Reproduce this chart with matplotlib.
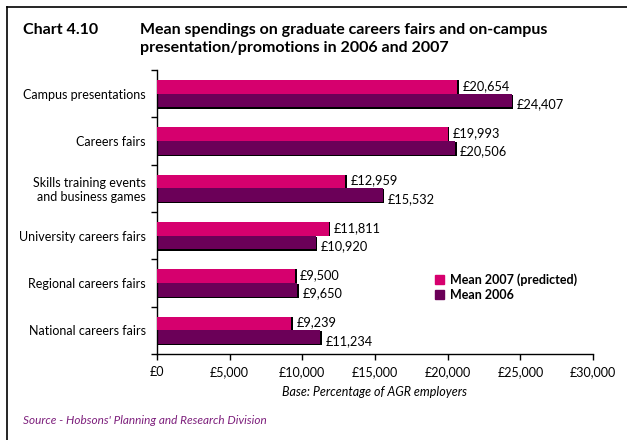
import matplotlib.pyplot as plt
from matplotlib.lines import Line2D
from matplotlib.patches import Patch
import numpy as np

plt.rcParams['font.family'] = ['Lato', 'DejaVu Sans']

categories = ['Campus presentations', 'Careers fairs',
              'Skills training events\nand business games',
              'University careers fairs', 'Regional careers fairs',
              'National careers fairs']
mean_2007 = [20654, 19993, 12959, 11811, 9500, 9239]
mean_2006 = [24407, 20506, 15532, 10920, 9650, 11234]
xticks = [0, 5000, 10000, 15000, 20000, 25000, 30000]

pink = '#d6006e'
purple = '#6b0058'

fig = plt.figure(figsize=(6.27, 4.4), dpi=100)
ax = fig.add_axes([0.2504, 0.1955, 0.6954, 0.6455])

y = np.arange(len(categories))
h = 0.29

# dark drop edge on the right/bottom of each bar
sh_x, sh_y = 120, 0.025
ax.barh(y + h / 2 + sh_y, np.array(mean_2006) + sh_x, height=h,
        color='black', zorder=1)
ax.barh(y - h / 2, np.array(mean_2007) + sh_x, height=h, color='black',
        zorder=1)
ax.barh(y - h / 2, mean_2007, height=h, color=pink, zorder=3)
ax.barh(y + h / 2, mean_2006, height=h, color=purple, zorder=2)

for i in range(len(categories)):
    ax.text(mean_2007[i] + 350, y[i] - h / 2 - 0.02, f'£{mean_2007[i]:,}',
            va='center', ha='left', fontsize=9.2)
    ax.text(mean_2006[i] + 350, y[i] + h / 2 + 0.08, f'£{mean_2006[i]:,}',
            va='center', ha='left', fontsize=9.2)

ax.set_xlim(0, 30000)
ax.set_ylim(len(categories) - 0.5, -0.5)
ax.set_xticks(xticks)
ax.set_xticklabels([f'£{v:,}' for v in xticks], fontsize=9)
ax.set_yticks(y)
ax.set_yticklabels(categories, fontsize=9)
ax.tick_params(axis='y', length=0, pad=8)
ax.tick_params(axis='x', length=4, width=1, pad=5)
ax.set_yticks(np.arange(len(categories) + 1) - 0.5, minor=True)
ax.tick_params(axis='y', which='minor', length=4, width=1)
for s in ['top', 'right']:
    ax.spines[s].set_visible(False)
ax.spines['left'].set_linewidth(1)
ax.spines['bottom'].set_linewidth(1)

handles = [Patch(color=pink, label='Mean 2007 (predicted)'),
           Patch(color=purple, label='Mean 2006')]
ax.legend(handles=handles, loc='upper left',
          bbox_to_anchor=(0.612, 0.323), frameon=False,
          prop={'weight': 'bold', 'size': 9}, handlelength=0.7,
          handleheight=0.7, handletextpad=0.5, labelspacing=0.2)

fig.text(0.598, 0.108, 'Base: Percentage of AGR employers', ha='center',
         va='center', fontsize=9, style='italic')
fig.text(0.037, 0.045, "Source - Hobsons' Planning and Research Division",
         ha='left', va='center', fontsize=8.5, style='italic', color='#7d1f7c')

fig.text(0.037, 0.932, 'Chart 4.10', ha='left', va='center', fontsize=11.5,
         weight='bold')
fig.text(0.223, 0.932, 'Mean spendings on graduate careers fairs and on-campus',
         ha='left', va='center', fontsize=11.5, weight='bold')
fig.text(0.223, 0.891, 'presentation/promotions in 2006 and 2007',
         ha='left', va='center', fontsize=11.5, weight='bold')

# frame lines along the top and left edge
fig.add_artist(Line2D([0.011, 1.0], [0.984, 0.984], color='black', lw=1.2,
                      transform=fig.transFigure))
fig.add_artist(Line2D([0.011, 0.011], [0.0, 0.984], color='black', lw=1.2,
                      transform=fig.transFigure))

fig.savefig('out.png', dpi=100)
